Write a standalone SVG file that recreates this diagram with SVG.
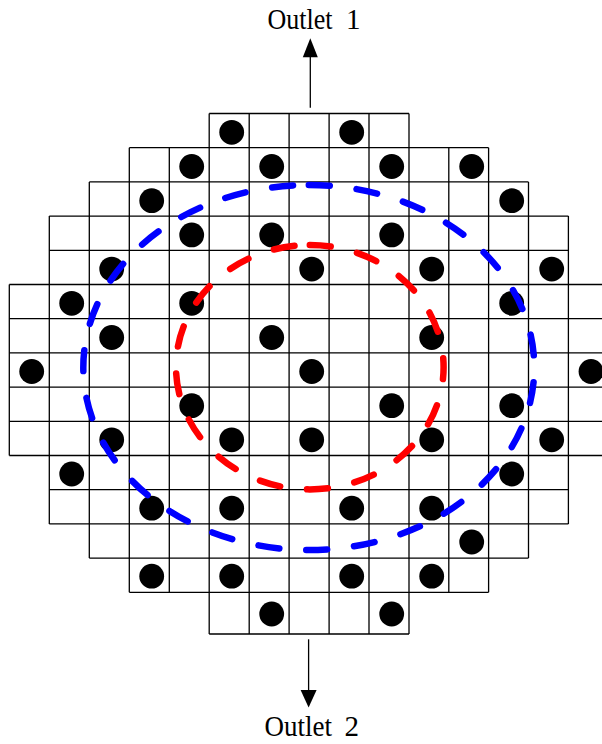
<svg xmlns="http://www.w3.org/2000/svg" width="602" height="744" viewBox="0 0 602 744">
<defs>
<style>
.grid{fill:none;stroke:#000;stroke-width:1.3}
.dot{fill:#000}
.ring{fill:none;stroke-width:6.5;stroke-linecap:round;stroke-dasharray:21 27}
.blue{stroke:#0000ff}
.red{stroke:#ff0000}
.conn{stroke:#000;stroke-width:1.3;fill:none}
.head{fill:#000}
.lbl{font-family:"Liberation Serif","Times New Roman",serif;font-size:29px;fill:#000}
</style>
</defs>
<rect width="602" height="744" fill="#fff"/>
<g id="grid">
<path class="grid" d="M209.2 113.5H409M129.3 147.7H488.6M89.3 181.9H528.5M49.3 216.1H568.4M49.3 250.3H568.4M9.3 284.5H608.3M9.3 318.7H608.3M9.3 352.9H608.3M9.3 387.1H608.3M9.3 421.3H608.3M9.3 455.5H608.3M49.3 489.7H568.4M49.3 523.9H568.4M89.3 558.1H528.5M129.3 592.3H488.6M209.2 634H409"/>
<path class="grid" d="M9.3 284.5V455.5M49.3 216.1V523.9M89.3 181.9V558.1M129.3 147.7V592.3M169.3 147.7V592.3M209.2 113.5V634M249.2 113.5V634M289.1 113.5V634M329.1 113.5V634M369 113.5V634M409 113.5V634M448.8 147.7V592.3M488.6 147.7V592.3M528.5 181.9V558.1M568.4 216.1V523.9M608.3 284.5V455.5"/>
</g>
<g id="dots">
<circle class="dot" cx="231.7" cy="132.3" r="12.4"/><circle class="dot" cx="351.7" cy="132.3" r="12.4"/>
<circle class="dot" cx="191.7" cy="166.5" r="12.4"/><circle class="dot" cx="271.7" cy="166.5" r="12.4"/><circle class="dot" cx="391.7" cy="166.5" r="12.4"/><circle class="dot" cx="471.7" cy="166.5" r="12.4"/>
<circle class="dot" cx="151.7" cy="200.7" r="12.4"/><circle class="dot" cx="511.7" cy="200.7" r="12.4"/>
<circle class="dot" cx="191.7" cy="234.9" r="12.4"/><circle class="dot" cx="271.7" cy="234.9" r="12.4"/><circle class="dot" cx="391.7" cy="234.9" r="12.4"/>
<circle class="dot" cx="111.7" cy="269.1" r="12.4"/><circle class="dot" cx="311.7" cy="269.1" r="12.4"/><circle class="dot" cx="431.7" cy="269.1" r="12.4"/><circle class="dot" cx="551.7" cy="269.1" r="12.4"/>
<circle class="dot" cx="71.7" cy="303.3" r="12.4"/><circle class="dot" cx="191.7" cy="303.3" r="12.4"/><circle class="dot" cx="511.7" cy="303.3" r="12.4"/>
<circle class="dot" cx="111.7" cy="337.5" r="12.4"/><circle class="dot" cx="271.7" cy="337.5" r="12.4"/><circle class="dot" cx="431.7" cy="337.5" r="12.4"/>
<circle class="dot" cx="31.7" cy="371.5" r="12.4"/><circle class="dot" cx="311.7" cy="371.5" r="12.4"/><circle class="dot" cx="591" cy="371.5" r="12.4"/>
<circle class="dot" cx="191.7" cy="405.7" r="12.4"/><circle class="dot" cx="391.7" cy="405.7" r="12.4"/><circle class="dot" cx="511.7" cy="405.7" r="12.4"/>
<circle class="dot" cx="111.7" cy="439.8" r="12.4"/><circle class="dot" cx="231.7" cy="439.8" r="12.4"/><circle class="dot" cx="311.7" cy="439.8" r="12.4"/><circle class="dot" cx="431.7" cy="439.8" r="12.4"/><circle class="dot" cx="551.7" cy="439.8" r="12.4"/>
<circle class="dot" cx="71.7" cy="474" r="12.4"/><circle class="dot" cx="511.7" cy="474" r="12.4"/>
<circle class="dot" cx="151.7" cy="508.2" r="12.4"/><circle class="dot" cx="231.7" cy="508.2" r="12.4"/><circle class="dot" cx="351.7" cy="508.2" r="12.4"/><circle class="dot" cx="431.7" cy="508.2" r="12.4"/>
<circle class="dot" cx="471.7" cy="542" r="12.4"/>
<circle class="dot" cx="151.7" cy="576.2" r="12.4"/><circle class="dot" cx="231.7" cy="576.2" r="12.4"/><circle class="dot" cx="351.7" cy="576.2" r="12.4"/><circle class="dot" cx="431.7" cy="576.2" r="12.4"/>
<circle class="dot" cx="271.7" cy="614" r="12.4"/><circle class="dot" cx="391.7" cy="614" r="12.4"/>
</g>
<g id="zones">
<path id="outer-zone" class="ring blue" d="M308.8 185A225.5 182.5 0 0 1 308.8 550A225.5 182.5 0 0 1 308.8 185"/>
<path id="inner-zone" class="ring red" d="M309.8 245A133.8 122.2 0 0 1 309.8 489.4A133.8 122.2 0 0 1 309.8 245"/>
</g>
<g id="connectors">
<line class="conn" x1="310.3" y1="107.7" x2="310.3" y2="56"/>
<polygon class="head" points="310.3,38.3 302.8,57.3 317.8,57.3"/>
<line class="conn" x1="308.6" y1="639.3" x2="308.6" y2="691"/>
<polygon class="head" points="308.6,707.5 300.6,690 316.6,690"/>
</g>
<g id="outlet1">
<text class="lbl" y="29.3"><tspan x="267.5" textLength="65" lengthAdjust="spacingAndGlyphs">Outlet</tspan><tspan x="346">1</tspan></text>
</g>
<g id="outlet2">
<text class="lbl" y="736"><tspan x="264.5" textLength="67.5" lengthAdjust="spacingAndGlyphs">Outlet</tspan><tspan x="344.5">2</tspan></text>
</g>
</svg>
